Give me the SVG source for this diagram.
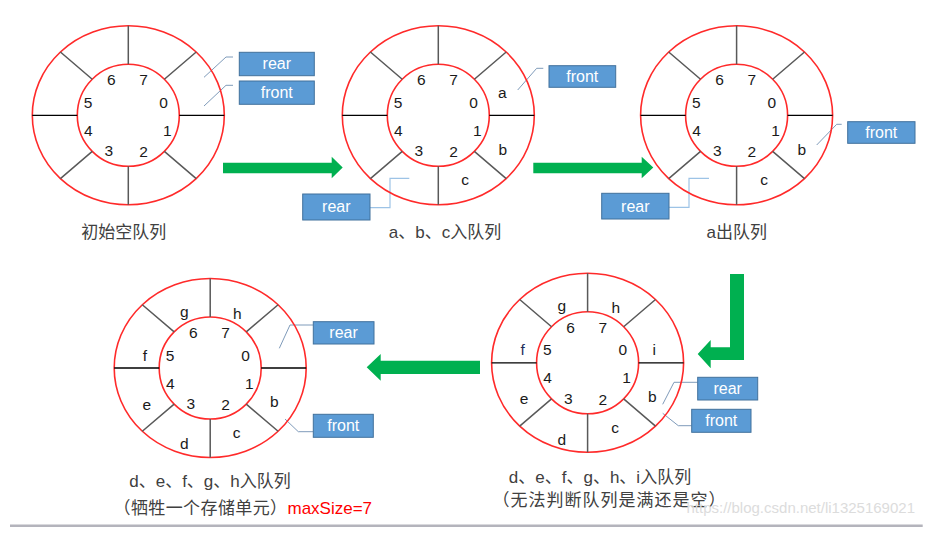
<svg xmlns="http://www.w3.org/2000/svg" width="945" height="541" viewBox="0 0 945 541">
<style>
  .outer{fill:none;stroke:#FF2A2A;stroke-width:1.6}
  .inner{fill:none;stroke:#FF2A2A;stroke-width:1.6}
  .spg{fill:none;stroke:#595959;stroke-width:1.5}
  .spk{fill:none;stroke:#000;stroke-width:1.3}
  .dg{font-family:"Liberation Sans",Arial,sans-serif;font-size:15.5px;fill:#1a1a1a;text-anchor:middle}
  .lt{font-family:"Liberation Sans",Arial,sans-serif;font-size:15.5px;fill:#1a1a1a;text-anchor:middle}
  .box{fill:#5B9BD5;stroke:#41719C;stroke-width:1}
  .bt{font-family:"Liberation Sans",Arial,sans-serif;font-size:16px;fill:#fff;text-anchor:middle}
  .ld{fill:none;stroke:#7F9BBA;stroke-width:1}
  .ld2{fill:none;stroke:#9DC3E6;stroke-width:1.2}
  .arr{fill:#00B050}
  .cap{font-family:"Liberation Sans","Noto Sans CJK SC",sans-serif;font-size:17px;fill:#404040}
  .red{fill:#FF0000}
</style>
<defs>
  <g id="ring">
    <ellipse cx="0" cy="0" rx="96" ry="89.5" class="outer"/>
    <circle cx="0" cy="0" r="51" class="inner"/>
    <path class="spg" d="M0,-51V-89.5M0,51V89.5M-36.06,-36.06L-67.9,-63.3M36.06,-36.06L67.9,-63.3M-36.06,36.06L-67.9,63.3M36.06,36.06L67.9,63.3"/>
    <path class="spk" d="M-96,0H-51M51,0H96"/>
    <text class="dg" x="-17" y="-30">6</text>
    <text class="dg" x="15.3" y="-30">7</text>
    <text class="dg" x="-40.2" y="-7.5">5</text>
    <text class="dg" x="35.3" y="-7.5">0</text>
    <text class="dg" x="-40" y="20.5">4</text>
    <text class="dg" x="39" y="20.5">1</text>
    <text class="dg" x="-19.4" y="41.1">3</text>
    <text class="dg" x="15.3" y="42">2</text>
  </g>
</defs>
<rect x="0" y="0" width="945" height="541" fill="#fff"/>

<g id="connectors">
  <polyline class="ld" points="233,57 226,57 204,77.3"/>
  <polyline class="ld" points="233,85.3 226,85.3 204,106"/>
  <polyline class="ld" points="543.3,68.3 536.7,68.3 517.7,90"/>
  <polyline class="ld2" points="370,207.7 390,207.7 390,178.3 409.3,178.3"/>
  <polyline class="ld" points="841.7,124.3 836.7,124.3 816.7,145"/>
  <polyline class="ld2" points="669,207.3 689,207.3 689,178.3 709,178.3"/>
  <polyline class="ld" points="313,325 290,325 279.3,348.3"/>
  <polyline class="ld" points="313,431.7 298.3,431.7 285,419"/>
  <polyline class="ld" points="697.7,382.3 674,382.3 662.7,404.3"/>
  <polyline class="ld" points="691.7,425.7 678.3,425.7 662.7,413.3"/>
  <polygon class="arr" points="223,162.7 331.7,162.7 331.7,156.7 342.7,167.5 331.7,178.3 331.7,173.3 223,173.3"/>
  <polygon class="arr" points="533.3,162.7 641.7,162.7 641.7,156.7 653.3,167.5 641.7,178.3 641.7,173.3 533.3,173.3"/>
  <polygon class="arr" points="480,360.7 380.7,360.7 380.7,354 366.7,367.3 380.7,380.7 380.7,374 480,374"/>
  <polygon class="arr" points="730,274 744,274 744,360 710.7,360 710.7,368.3 697.7,354 710.7,340 710.7,347.3 730,347.3"/>
</g>

<g id="q-initial">
  <use href="#ring" transform="translate(128.3,115.3)"/>
  <text class="cap" x="123.8" y="237.9" text-anchor="middle">初始空队列</text>
</g>
<g id="q-enqueue-abc">
  <use href="#ring" transform="translate(438.3,115.3)"/>
  <text class="lt" x="502.3" y="97.5">a</text>
  <text class="lt" x="502.7" y="154.8">b</text>
  <text class="lt" x="465" y="184.9">c</text>
  <text class="cap" x="445" y="237.9" text-anchor="middle">a、b、c入队列</text>
</g>
<g id="q-dequeue-a">
  <use href="#ring" transform="translate(736.6,115.3)"/>
  <text class="lt" x="801.7" y="154.8">b</text>
  <text class="lt" x="764" y="184.9">c</text>
  <text class="cap" x="736.7" y="237.9" text-anchor="middle">a出队列</text>
</g>
<g id="q-full-7">
  <use href="#ring" transform="translate(210.2,368)"/>
  <text class="lt" x="184.3" y="316.5">g</text>
  <text class="lt" x="237.3" y="318.5">h</text>
  <text class="lt" x="145" y="360.8">f</text>
  <text class="lt" x="146.7" y="409.9">e</text>
  <text class="lt" x="184.3" y="448.5">d</text>
  <text class="lt" x="236.7" y="437.5">c</text>
  <text class="lt" x="274.3" y="406.5">b</text>
  <text class="cap" x="210" y="486.9" text-anchor="middle">d、e、f、g、h入队列</text>
  <text class="cap" x="113.5" y="514.2"><tspan style="letter-spacing:0.4px">（牺牲一个存储单元）</tspan><tspan class="red">maxSize=7</tspan></text>
</g>
<g id="q-full-8">
  <use href="#ring" transform="translate(587.6,362.8)"/>
  <text class="lt" x="561.7" y="310.8">g</text>
  <text class="lt" x="615.7" y="312.5">h</text>
  <text class="lt" x="522.7" y="355.1" style="fill:#1F2D5A">f</text>
  <text class="lt" x="654.3" y="355.1">i</text>
  <text class="lt" x="524" y="404.2">e</text>
  <text class="lt" x="652.3" y="401.8">b</text>
  <text class="lt" x="561.7" y="444.8">d</text>
  <text class="lt" x="615" y="432.5">c</text>
  <text class="cap" x="600" y="482.9" text-anchor="middle">d、e、f、g、h、i入队列</text>
  <text class="cap" x="609.5" y="506.2" text-anchor="middle" style="letter-spacing:1px">（无法判断队列是满还是空）</text>
</g>

<g id="ptr-rear-1"><rect class="box" x="239.3" y="52.3" width="75" height="23.4"/><text class="bt" x="276.8" y="69.3">rear</text></g>
<g id="ptr-front-1"><rect class="box" x="239.3" y="81" width="75" height="23.3"/><text class="bt" x="276.8" y="98">front</text></g>
<g id="ptr-front-2"><rect class="box" x="549" y="65.7" width="66.7" height="21.6"/><text class="bt" x="582.3" y="81.8">front</text></g>
<g id="ptr-rear-2"><rect class="box" x="302.7" y="194" width="67.3" height="26"/><text class="bt" x="336.3" y="212.3">rear</text></g>
<g id="ptr-front-3"><rect class="box" x="847.7" y="121.7" width="67.3" height="21.6"/><text class="bt" x="881.3" y="137.8">front</text></g>
<g id="ptr-rear-3"><rect class="box" x="601.7" y="193.3" width="67.3" height="25.7"/><text class="bt" x="635.3" y="211.5">rear</text></g>
<g id="ptr-rear-4"><rect class="box" x="313.3" y="321.7" width="60.7" height="22.3"/><text class="bt" x="343.6" y="338.3">rear</text></g>
<g id="ptr-front-4"><rect class="box" x="313.3" y="414.3" width="60" height="23"/><text class="bt" x="343.3" y="431.3">front</text></g>
<g id="ptr-rear-5"><rect class="box" x="697.7" y="377.3" width="60" height="22.7"/><text class="bt" x="727.7" y="394.1">rear</text></g>
<g id="ptr-front-5"><rect class="box" x="691.7" y="409.3" width="59.3" height="23"/><text class="bt" x="721.3" y="426.3">front</text></g>

<text x="915" y="513" text-anchor="end" style="font-family:'Liberation Sans',Arial,sans-serif;font-size:15px;fill:#DCDCDC">https://blog.csdn.net/li1325169021</text>
<line x1="10" y1="525.7" x2="922.7" y2="525.7" stroke="#B4B4BC" stroke-width="2.5"/>
</svg>
